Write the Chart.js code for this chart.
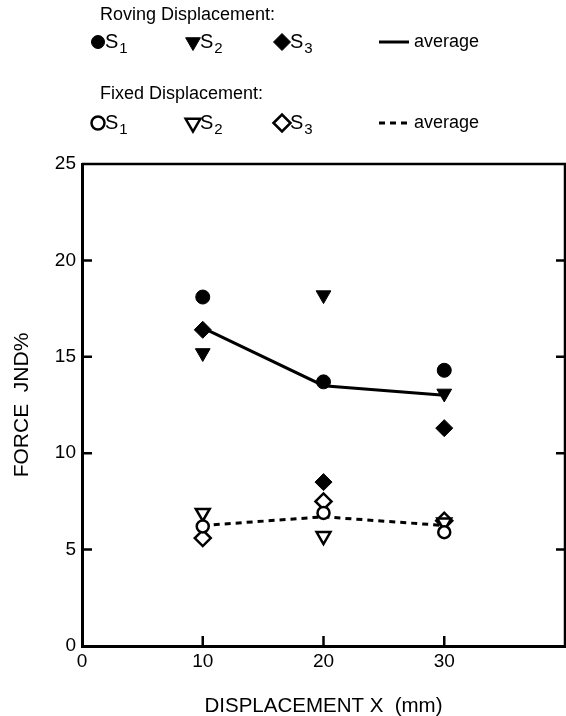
<!DOCTYPE html>
<html>
<head>
<meta charset="utf-8">
<script src="https://cdn.jsdelivr.net/npm/chart.js@4"></script>
<style>
  html, body { margin: 0; padding: 0; background: #fff; }
  #wrap { width: 566px; height: 716px; position: relative; }
</style>
</head>
<body>
<div id="wrap"><canvas id="jnd"></canvas></div>
<script>
// displacement (mm)
const displacement = [10, 20, 30];

// roving displacement, force JND%
const rovingS1 = [18.1, 13.7, 14.3];
const rovingS2 = [15.2, 18.2, 13.1];
const rovingS3 = [16.4, 8.5, 11.3];
const rovingAvg = [16.5, 13.5, 13.0];

// fixed displacement, force JND%
const fixedS1 = [6.2, 6.9, 5.9];
const fixedS2 = [6.9, 5.7, 6.4];
const fixedS3 = [5.6, 7.5, 6.5];
const fixedAvg = [6.25, 6.7, 6.25];

const yTicks = [0, 5, 10, 15, 20, 25];
const xTicks = [0, 10, 20, 30];

const FONT = '"Liberation Sans", Arial, sans-serif';

function pts(vals) {
  return vals.map((v, i) => ({ x: displacement[i], y: v }));
}

function markers(label, vals, style, filled, radius, rotation) {
  return {
    type: 'scatter',
    label: label,
    data: pts(vals),
    pointStyle: style,
    pointRadius: radius,
    pointRotation: rotation || 0,
    pointBackgroundColor: filled ? '#000' : '#fff',
    pointBorderColor: '#000',
    pointBorderWidth: filled ? 1 : 2.5,
    showLine: false
  };
}

// frame (top + right) and inward tick marks
const framePlugin = {
  id: 'frame',
  afterDatasetsDraw(chart) {
    const { ctx, chartArea: a, scales } = chart;
    ctx.save();
    ctx.strokeStyle = '#000';
    ctx.lineWidth = 2.5;
    ctx.beginPath();
    ctx.moveTo(a.left, a.top);
    ctx.lineTo(a.right, a.top);
    ctx.lineTo(a.right, a.bottom);
    ctx.stroke();
    ctx.beginPath();
    yTicks.slice(1, -1).forEach(v => {
      const y = scales.y.getPixelForValue(v);
      ctx.moveTo(a.left, y); ctx.lineTo(a.left + 10, y);
      ctx.moveTo(a.right, y); ctx.lineTo(a.right - 9, y);
    });
    xTicks.slice(1).forEach(v => {
      const x = scales.x.getPixelForValue(v);
      ctx.moveTo(x, a.bottom); ctx.lineTo(x, a.bottom - 10);
    });
    ctx.stroke();
    ctx.restore();
  }
};

// legend block at the top
const keyPlugin = {
  id: 'key',
  afterDraw(chart) {
    const ctx = chart.ctx;
    const drawPoint = Chart.helpers.drawPoint;
    ctx.save();
    ctx.fillStyle = '#000';
    ctx.strokeStyle = '#000';
    ctx.textBaseline = 'middle';
    ctx.textAlign = 'left';

    function subj(x, y, n) {
      ctx.font = '20px ' + FONT;
      ctx.fillText('S', x, y);
      const w = ctx.measureText('S').width;
      ctx.font = '15px ' + FONT;
      ctx.fillText(n, x + w + 1, y + 7);
    }
    function sym(x, y, style, filled, r, rot) {
      ctx.fillStyle = filled ? '#000' : '#fff';
      ctx.lineWidth = filled ? 1 : 2.5;
      drawPoint(ctx, { pointStyle: style, radius: r, rotation: rot || 0, borderWidth: ctx.lineWidth }, x, y);
      ctx.fillStyle = '#000';
    }
    function row(title, ty, sy, filled, dash) {
      ctx.font = '18px ' + FONT;
      ctx.fillText(title, 100, ty);
      sym(98, sy, 'circle', filled, 6.5);
      subj(105, sy, '1');
      sym(193, sy, 'triangle', filled, 8.5, 180);
      subj(200, sy, '2');
      sym(282, sy, 'rectRot', filled, 8.5);
      subj(290, sy, '3');
      ctx.lineWidth = 3;
      ctx.setLineDash(dash);
      ctx.beginPath();
      ctx.moveTo(379, sy); ctx.lineTo(409, sy);
      ctx.stroke();
      ctx.setLineDash([]);
      ctx.font = '18px ' + FONT;
      ctx.fillText('average', 414, sy);
    }
    row('Roving Displacement:', 15, 42, true, []);
    row('Fixed Displacement:', 94, 123, false, [6, 5]);
    ctx.restore();
  }
};

const config = {
  type: 'scatter',
  data: {
    datasets: [
      markers('Roving S1', rovingS1, 'circle', true, 7),
      markers('Roving S2', rovingS2, 'triangle', true, 8.5, 180),
      markers('Roving S3', rovingS3, 'rectRot', true, 8.5),
      markers('Fixed S1', fixedS1, 'circle', false, 6),
      markers('Fixed S2', fixedS2, 'triangle', false, 8, 180),
      markers('Fixed S3', fixedS3, 'rectRot', false, 8),
      {
        type: 'line', label: 'Roving average', data: pts(rovingAvg),
        borderColor: '#000', borderWidth: 3, pointRadius: 0, fill: false, tension: 0
      },
      {
        type: 'line', label: 'Fixed average', data: pts(fixedAvg),
        borderColor: '#000', borderWidth: 3, borderDash: [6, 5], pointRadius: 0, fill: false, tension: 0
      }
    ]
  },
  options: {
    responsive: true,
    maintainAspectRatio: false,
    animation: false,
    layout: { autoPadding: false, padding: { top: 164, right: 1, left: 0, bottom: 0 } },
    plugins: { legend: { display: false }, tooltip: { enabled: false } },
    scales: {
      x: {
        type: 'linear', min: 0, max: 40,
        afterFit(s) { s.height = 70; s.paddingRight = 0; s.paddingLeft = 0; },
        afterBuildTicks(s) { s.ticks = [0, 10, 20, 30, 40].map(v => ({ value: v })); },
        grid: { display: false, drawTicks: false },
        border: { display: true, color: '#000', width: 3 },
        ticks: {
          color: '#000', padding: 4, maxRotation: 0,
          font: { family: FONT, size: 19 },
          callback: v => (xTicks.includes(v) ? String(v) : '')
        },
        title: {
          display: true, text: 'DISPLACEMENT X  (mm)', color: '#000',
          font: { family: FONT, size: 20.5 }, padding: { top: 0, bottom: -2.5 }
        }
      },
      y: {
        type: 'linear', min: 0, max: 25,
        afterFit(s) { s.width = 82; },
        afterBuildTicks(s) { s.ticks = yTicks.map(v => ({ value: v })); },
        grid: { display: false, drawTicks: false },
        border: { display: true, color: '#000', width: 3 },
        ticks: {
          color: '#000', padding: 6,
          font: { family: FONT, size: 19 }
        },
        title: {
          display: true, text: 'FORCE  JND%', color: '#000',
          font: { family: FONT, size: 21 }, padding: { top: 9.5, bottom: 0 }
        }
      }
    }
  },
  plugins: [framePlugin, keyPlugin]
};

new Chart(document.getElementById('jnd').getContext('2d'), config);
</script>
</body>
</html>
